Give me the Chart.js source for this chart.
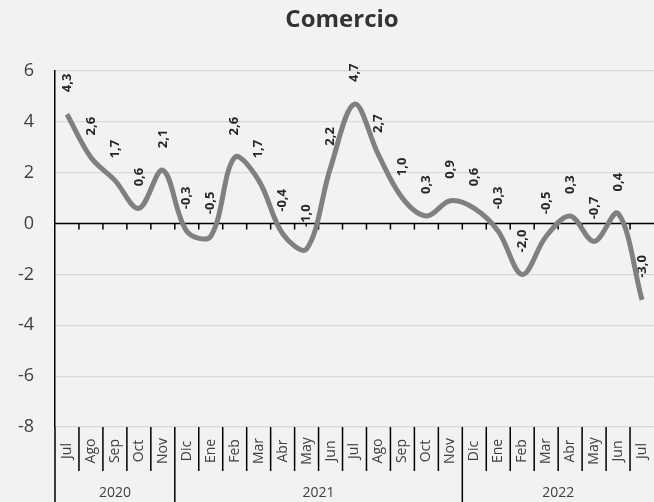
<!DOCTYPE html>
<html>
<head>
<meta charset="utf-8">
<script src="https://cdn.jsdelivr.net/npm/chart.js@4.4.1/dist/chart.umd.min.js"></script>
<style>
  html, body { margin: 0; padding: 0; background: #f2f2f2; }
  #wrap { width: 654px; height: 502px; }
</style>
</head>
<body>
<div id="wrap"><canvas id="chart" width="654" height="502"></canvas></div>
<script>
// Data
const months = ['Jul', 'Ago', 'Sep', 'Oct', 'Nov',
                'Dic', 'Ene', 'Feb', 'Mar', 'Abr', 'May', 'Jun', 'Jul', 'Ago', 'Sep', 'Oct', 'Nov',
                'Dic', 'Ene', 'Feb', 'Mar', 'Abr', 'May', 'Jun', 'Jul'];
const values = [4.3, 2.6, 1.7, 0.6, 2.1,
                -0.3, -0.5, 2.6, 1.7, -0.4, -1.0, 2.2, 4.7, 2.7, 1.0, 0.3, 0.9,
                0.6, -0.3, -2.0, -0.5, 0.3, -0.7, 0.4, -3.0];
const years = ['2020', '2021', '2022'];
const yearStarts = [0, 5, 17];   // index of first month in each year group
const yearEnds = [5, 17, 25];    // index after last month

const textColor = '#404040';
const fontFamily = '"Open Sans", sans-serif';

// Draws title, value labels, zero axis and the two-level category labels
const decorPlugin = {
    id: 'decor',
    beforeDatasetsDraw(chart) {
        const ctx = chart.ctx;
        const x = chart.scales.x;
        const y = chart.scales.y;
        const meta = chart.getDatasetMeta(0);

        // value labels (under the axis line, like the original)
        ctx.save();
        ctx.fillStyle = '#262626';
        ctx.font = 'bold 13px ' + fontFamily;
        ctx.textAlign = 'left';
        ctx.textBaseline = 'middle';
        meta.data.forEach((pt, i) => {
            ctx.save();
            ctx.translate(pt.x, pt.y - 22);
            ctx.rotate(-Math.PI / 2);
            ctx.fillText(values[i].toFixed(1).replace('.', ','), 0, 0);
            ctx.restore();
        });
        ctx.restore();

        // horizontal axis at zero with tick marks
        const y0 = y.getPixelForValue(0);
        const step = (x.right - x.left) / months.length;
        ctx.save();
        ctx.strokeStyle = '#000';
        ctx.lineWidth = 1.5;
        ctx.beginPath();
        ctx.moveTo(x.left, y0);
        ctx.lineTo(x.right, y0);
        for (let i = 1; i < months.length; i++) {
            const bx = x.getPixelForValue(i) - step / 2;
            ctx.moveTo(bx, y0);
            ctx.lineTo(bx, y0 + 6);
        }
        ctx.stroke();
        ctx.restore();
    },
    afterDraw(chart) {
        const ctx = chart.ctx;
        const x = chart.scales.x;
        const area = chart.chartArea;
        const step = (x.right - x.left) / months.length;
        const bottom = area.bottom;

        ctx.save();
        // title
        ctx.fillStyle = '#333';
        ctx.font = 'bold 24px ' + fontFamily;
        ctx.textAlign = 'center';
        ctx.textBaseline = 'middle';
        ctx.fillText('Comercio', 342, 20);

        // month separators
        ctx.strokeStyle = '#000';
        ctx.lineWidth = 1.5;
        ctx.beginPath();
        for (let i = 0; i < months.length; i++) {
            const bx = x.getPixelForValue(i) - step / 2;
            ctx.moveTo(bx, bottom);
            ctx.lineTo(bx, bottom + 44);
        }
        // year separators
        yearStarts.forEach(s => {
            const bx = x.getPixelForValue(s) - step / 2;
            ctx.moveTo(bx, bottom);
            ctx.lineTo(bx, chart.height);
        });
        ctx.stroke();

        // month labels
        ctx.fillStyle = textColor;
        ctx.font = '14px ' + fontFamily;
        ctx.textAlign = 'center';
        ctx.textBaseline = 'middle';
        months.forEach((m, i) => {
            ctx.save();
            ctx.translate(x.getPixelForValue(i), bottom + 24);
            ctx.rotate(-Math.PI / 2);
            ctx.fillText(m, 0, 0);
            ctx.restore();
        });

        // year labels
        ctx.font = '14px ' + fontFamily;
        years.forEach((yr, k) => {
            const x1 = x.getPixelForValue(yearStarts[k]) - step / 2;
            const x2 = x.getPixelForValue(yearEnds[k] - 1) + step / 2;
            ctx.fillText(yr, (x1 + x2) / 2, bottom + 66);
        });
        ctx.restore();
    }
};

const bgPlugin = {
    id: 'bg',
    beforeDraw(chart) {
        const ctx = chart.ctx;
        ctx.save();
        ctx.fillStyle = '#f2f2f2';
        ctx.fillRect(0, 0, chart.width, chart.height);
        ctx.restore();
    }
};

new Chart(document.getElementById('chart'), {
    type: 'line',
    data: {
        labels: months,
        datasets: [{
            data: values,
            borderColor: '#808080',
            borderWidth: 5,
            pointRadius: 0,
            tension: 0.35,
            fill: false
        }]
    },
    options: {
        responsive: false,
        animation: false,
        layout: { padding: { top: 71, right: -4, left: 0, bottom: 0 } },
        plugins: {
            legend: { display: false },
            title: { display: false },
            tooltip: { enabled: false }
        },
        scales: {
            x: {
                type: 'category',
                offset: true,
                grid: { display: false },
                border: { display: false },
                ticks: { display: false },
                afterFit(scale) { scale.height = 75; }
            },
            y: {
                min: -8,
                max: 6,
                ticks: {
                    stepSize: 2,
                    color: textColor,
                    font: { size: 18, family: fontFamily },
                    padding: 21
                },
                grid: { color: '#d9d9d9', lineWidth: 1.2, drawTicks: false },
                border: { color: '#000', width: 1.5 },
                afterFit(scale) { scale.width = 55; }
            }
        }
    },
    plugins: [bgPlugin, decorPlugin]
});
</script>
</body>
</html>
